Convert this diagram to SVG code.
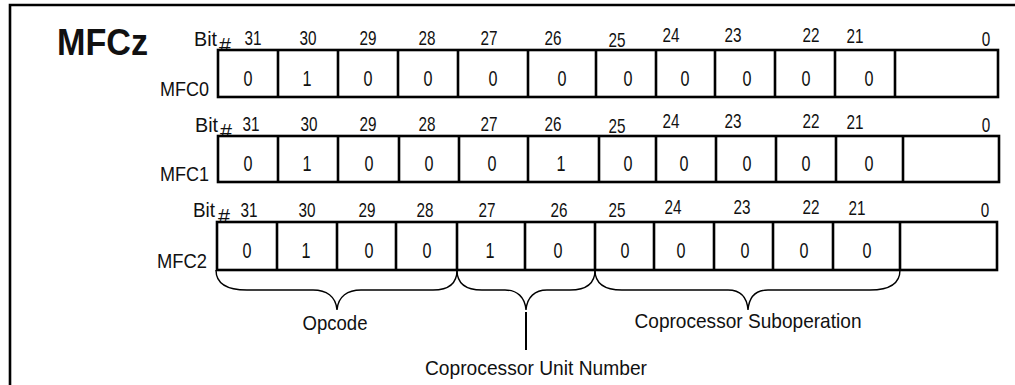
<svg xmlns="http://www.w3.org/2000/svg" width="1015" height="385" viewBox="0 0 1015 385">
<style>
text{font-family:"Liberation Sans",Arial,sans-serif;fill:#111;}
.t{font-size:21px;}
.n{font-size:21px;text-anchor:middle;}
.d{font-size:22px;text-anchor:middle;}
.lbl{font-size:21px;}
.mid{font-size:21px;text-anchor:middle;}
.ttl{font-size:37px;font-weight:bold;}
.box{fill:#fff;stroke:#000;stroke-width:2.6;}
.div{stroke:#000;stroke-width:2.6;}
.brace{fill:none;stroke:#000;stroke-width:1.4;}
</style>
<rect width="1015" height="385" fill="#fff"/>
<path d="M10,385 V5 H1015" fill="none" stroke="#000" stroke-width="2.6"/>
<text class="ttl" x="57" y="55" textLength="91" lengthAdjust="spacingAndGlyphs">MFCz</text>

<g id="row-mfc0">
<text class="t" x="194" y="46" textLength="23" lengthAdjust="spacingAndGlyphs">Bit</text><text class="t" x="219" y="52" textLength="12" lengthAdjust="spacingAndGlyphs">#</text>
<text class="n" x="253" y="45" textLength="17" lengthAdjust="spacingAndGlyphs">31</text><text class="n" x="308" y="45" textLength="17" lengthAdjust="spacingAndGlyphs">30</text><text class="n" x="368" y="45" textLength="17" lengthAdjust="spacingAndGlyphs">29</text><text class="n" x="427" y="45" textLength="17" lengthAdjust="spacingAndGlyphs">28</text><text class="n" x="489" y="45" textLength="17" lengthAdjust="spacingAndGlyphs">27</text><text class="n" x="553" y="45" textLength="17" lengthAdjust="spacingAndGlyphs">26</text><text class="n" x="617" y="46.5" textLength="17" lengthAdjust="spacingAndGlyphs">25</text><text class="n" x="671" y="42" textLength="17" lengthAdjust="spacingAndGlyphs">24</text><text class="n" x="733" y="42" textLength="17" lengthAdjust="spacingAndGlyphs">23</text><text class="n" x="811" y="42" textLength="17" lengthAdjust="spacingAndGlyphs">22</text><text class="n" x="855" y="43" textLength="17" lengthAdjust="spacingAndGlyphs">21</text><text class="n" x="986" y="46" textLength="8.5" lengthAdjust="spacingAndGlyphs">0</text>
<text class="lbl" x="160" y="96" textLength="49" lengthAdjust="spacingAndGlyphs">MFC0</text>
<rect class="box" x="218" y="50" width="780" height="47"/>
<path class="div" d="M278,50V97M338,50V97M398,50V97M458,50V97M528,50V97M596,50V97M656,50V97M715,50V97M775,50V97M835,50V97M895,50V97"/>
<text class="d" x="248" y="86" textLength="9" lengthAdjust="spacingAndGlyphs">0</text><text class="d" x="307" y="86" textLength="9" lengthAdjust="spacingAndGlyphs">1</text><text class="d" x="368" y="86" textLength="9" lengthAdjust="spacingAndGlyphs">0</text><text class="d" x="428" y="86" textLength="9" lengthAdjust="spacingAndGlyphs">0</text><text class="d" x="493" y="86" textLength="9" lengthAdjust="spacingAndGlyphs">0</text><text class="d" x="562" y="86" textLength="9" lengthAdjust="spacingAndGlyphs">0</text><text class="d" x="628" y="86" textLength="9" lengthAdjust="spacingAndGlyphs">0</text><text class="d" x="685" y="86" textLength="9" lengthAdjust="spacingAndGlyphs">0</text><text class="d" x="747" y="86" textLength="9" lengthAdjust="spacingAndGlyphs">0</text><text class="d" x="806" y="86" textLength="9" lengthAdjust="spacingAndGlyphs">0</text><text class="d" x="869" y="86" textLength="9" lengthAdjust="spacingAndGlyphs">0</text>
</g>

<g id="row-mfc1">
<text class="t" x="195" y="132" textLength="23" lengthAdjust="spacingAndGlyphs">Bit</text><text class="t" x="220" y="138" textLength="12" lengthAdjust="spacingAndGlyphs">#</text>
<text class="n" x="251" y="131" textLength="17" lengthAdjust="spacingAndGlyphs">31</text><text class="n" x="309" y="131" textLength="17" lengthAdjust="spacingAndGlyphs">30</text><text class="n" x="368" y="131" textLength="17" lengthAdjust="spacingAndGlyphs">29</text><text class="n" x="427" y="131" textLength="17" lengthAdjust="spacingAndGlyphs">28</text><text class="n" x="489" y="131" textLength="17" lengthAdjust="spacingAndGlyphs">27</text><text class="n" x="553" y="131" textLength="17" lengthAdjust="spacingAndGlyphs">26</text><text class="n" x="617" y="132.5" textLength="17" lengthAdjust="spacingAndGlyphs">25</text><text class="n" x="671" y="128" textLength="17" lengthAdjust="spacingAndGlyphs">24</text><text class="n" x="733" y="128" textLength="17" lengthAdjust="spacingAndGlyphs">23</text><text class="n" x="811" y="128" textLength="17" lengthAdjust="spacingAndGlyphs">22</text><text class="n" x="855" y="129" textLength="17" lengthAdjust="spacingAndGlyphs">21</text><text class="n" x="986" y="132" textLength="8.5" lengthAdjust="spacingAndGlyphs">0</text>
<text class="lbl" x="160" y="181" textLength="49" lengthAdjust="spacingAndGlyphs">MFC1</text>
<rect class="box" x="218" y="136" width="781" height="46"/>
<path class="div" d="M278,136V182M338,136V182M399,136V182M459,136V182M528,136V182M599,136V182M656,136V182M716,136V182M776,136V182M836,136V182M903,136V182"/>
<text class="d" x="248" y="171" textLength="9" lengthAdjust="spacingAndGlyphs">0</text><text class="d" x="307" y="171" textLength="9" lengthAdjust="spacingAndGlyphs">1</text><text class="d" x="369" y="171" textLength="9" lengthAdjust="spacingAndGlyphs">0</text><text class="d" x="429" y="171" textLength="9" lengthAdjust="spacingAndGlyphs">0</text><text class="d" x="492" y="171" textLength="9" lengthAdjust="spacingAndGlyphs">0</text><text class="d" x="561" y="171" textLength="9" lengthAdjust="spacingAndGlyphs">1</text><text class="d" x="628" y="171" textLength="9" lengthAdjust="spacingAndGlyphs">0</text><text class="d" x="684" y="171" textLength="9" lengthAdjust="spacingAndGlyphs">0</text><text class="d" x="747" y="171" textLength="9" lengthAdjust="spacingAndGlyphs">0</text><text class="d" x="806" y="171" textLength="9" lengthAdjust="spacingAndGlyphs">0</text><text class="d" x="869" y="171" textLength="9" lengthAdjust="spacingAndGlyphs">0</text>
</g>

<g id="row-mfc2">
<text class="t" x="193" y="217" textLength="22" lengthAdjust="spacingAndGlyphs">Bit</text><text class="t" x="218" y="223" textLength="12" lengthAdjust="spacingAndGlyphs">#</text>
<text class="n" x="249" y="217" textLength="17" lengthAdjust="spacingAndGlyphs">31</text><text class="n" x="307" y="217" textLength="17" lengthAdjust="spacingAndGlyphs">30</text><text class="n" x="367" y="217" textLength="17" lengthAdjust="spacingAndGlyphs">29</text><text class="n" x="425" y="217" textLength="17" lengthAdjust="spacingAndGlyphs">28</text><text class="n" x="487" y="217" textLength="17" lengthAdjust="spacingAndGlyphs">27</text><text class="n" x="559" y="217" textLength="17" lengthAdjust="spacingAndGlyphs">26</text><text class="n" x="617" y="217" textLength="17" lengthAdjust="spacingAndGlyphs">25</text><text class="n" x="673" y="214" textLength="17" lengthAdjust="spacingAndGlyphs">24</text><text class="n" x="742" y="214" textLength="17" lengthAdjust="spacingAndGlyphs">23</text><text class="n" x="811" y="214" textLength="17" lengthAdjust="spacingAndGlyphs">22</text><text class="n" x="857" y="215" textLength="17" lengthAdjust="spacingAndGlyphs">21</text><text class="n" x="985" y="217" textLength="8.5" lengthAdjust="spacingAndGlyphs">0</text>
<text class="lbl" x="157" y="268" textLength="50" lengthAdjust="spacingAndGlyphs">MFC2</text>
<rect class="box" x="217" y="222" width="780" height="48"/>
<path class="div" d="M277,222V270M337,222V270M396,222V270M457,222V270M525,222V270M595,222V270M654,222V270M714,222V270M773,222V270M833,222V270M900,222V270"/>
<text class="d" x="247" y="258" textLength="9" lengthAdjust="spacingAndGlyphs">0</text><text class="d" x="306" y="258" textLength="9" lengthAdjust="spacingAndGlyphs">1</text><text class="d" x="369" y="258" textLength="9" lengthAdjust="spacingAndGlyphs">0</text><text class="d" x="427" y="258" textLength="9" lengthAdjust="spacingAndGlyphs">0</text><text class="d" x="490" y="258" textLength="9" lengthAdjust="spacingAndGlyphs">1</text><text class="d" x="558" y="258" textLength="9" lengthAdjust="spacingAndGlyphs">0</text><text class="d" x="625" y="258" textLength="9" lengthAdjust="spacingAndGlyphs">0</text><text class="d" x="681" y="258" textLength="9" lengthAdjust="spacingAndGlyphs">0</text><text class="d" x="745" y="258" textLength="9" lengthAdjust="spacingAndGlyphs">0</text><text class="d" x="804" y="258" textLength="9" lengthAdjust="spacingAndGlyphs">0</text><text class="d" x="867" y="258" textLength="9" lengthAdjust="spacingAndGlyphs">0</text>
</g>

<g id="connectors">
<path class="brace" d="M216,270 C216,284 228,290 247,290 L313,290 C326,290 336,296 337,310 C338,296 348,290 361,290 L433,290 C448,290 457,284 457,270"/>
<path class="brace" d="M457,270 C457,284 466,290 482,290 L505,290 C517,290 525,297 526,310 C527,297 535,290 547,290 L570,290 C585,290 595,284 595,270"/>
<path class="brace" d="M595,270 C595,284 605,290 622,290 L728,290 C740,290 747,297 748,310 C749,297 756,290 768,290 L870,290 C889,290 900,284 900,270"/>
<line x1="526" y1="312" x2="526" y2="350" stroke="#000" stroke-width="2"/>
</g>

<g id="labels">
<text class="mid" x="335" y="330" textLength="65" lengthAdjust="spacingAndGlyphs">Opcode</text>
<text class="mid" x="536" y="375" textLength="222" lengthAdjust="spacingAndGlyphs">Coprocessor Unit Number</text>
<text class="mid" x="748" y="328" textLength="227" lengthAdjust="spacingAndGlyphs">Coprocessor Suboperation</text>
</g>
</svg>
